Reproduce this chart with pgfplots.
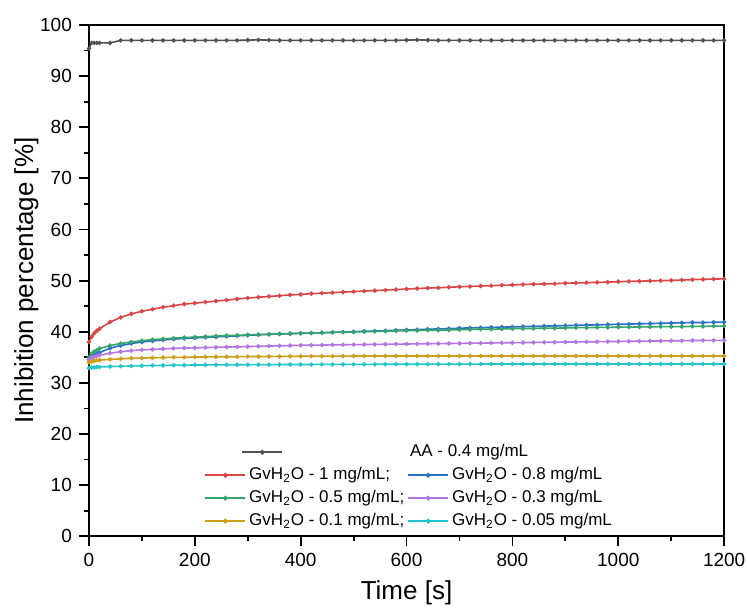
\documentclass[border=0pt]{standalone}
\usepackage{fontspec}
\setmainfont{Liberation Sans}
\usepackage{pgfplots}
\usepackage{pgfplotstable}
\pgfplotsset{compat=1.18}

\definecolor{cAA}{HTML}{515151}
\definecolor{cR}{HTML}{D94646}
\definecolor{cB}{HTML}{2A6FC9}
\definecolor{cG}{HTML}{37A56B}
\definecolor{cP}{HTML}{B177DE}
\definecolor{cY}{HTML}{CC9E1A}
\definecolor{cC}{HTML}{22C5CC}

\pgfplotsset{
    aaleg/.style={legend image code/.code={\path[draw=none] (0,0) -- (0.7cm,0);
        \draw[##1, line width=1pt, overlay, mark repeat=2, mark phase=2] plot coordinates {(0.65cm,0cm) (1.0cm,0cm) (1.35cm,0cm)};}},
    blankleg/.style={legend image code/.code={\path[draw=none] (0,0) -- (0.7cm,0);}},
}

% time [s], AA 0.4, GvH2O 1, 0.8, 0.5, 0.3, 0.1, 0.05 mg/mL
\pgfplotstableread{
t    aa    r     b     g     p     y     c
0    95.4  38.0  34.6  35.0  34.5  34.0  32.9
5    96.5  39.0  35.0  35.7  34.9  34.2  33.0
10   96.5  39.7  35.4  36.1  35.1  34.3  33.0
15   96.5  40.2  35.7  36.4  35.3  34.4  33.1
20   96.5  40.6  35.9  36.7  35.4  34.45 33.1
40   96.5  41.9  36.8  37.3  35.8  34.6  33.2
60   97.0  42.8  37.3  37.7  36.1  34.7  33.25
80   97.0  43.5  37.7  38.0  36.3  34.8  33.3
100  97.0  44.0  38.0  38.25 36.45 34.85 33.35
120  97.0  44.4  38.2  38.45 36.55 34.9  33.4
140  97.0  44.8  38.4  38.6  36.65 34.95 33.42
160  97.0  45.1  38.55 38.75 36.75 35.0  33.45
180  97.0  45.4  38.7  38.85 36.8  35.0  33.47
200  97.0  45.6  38.8  38.95 36.85 35.05 33.5
220  97.0  45.8  38.9  39.05 36.9  35.07 33.5
240  97.0  46.0  39.0  39.15 36.95 35.1  33.52
260  97.0  46.2  39.1  39.25 37.0  35.1  33.53
280  97.0  46.4  39.2  39.3  37.05 35.12 33.54
300  97.05 46.6  39.3  39.4  37.1  35.15 33.55
320  97.1  46.75 39.4  39.45 37.15 35.15 33.56
340  97.05 46.9  39.5  39.5  37.2  35.17 33.57
360  97.0  47.05 39.55 39.6  37.25 35.18 33.58
380  97.0  47.2  39.6  39.65 37.3  35.19 33.59
400  97.0  47.3  39.7  39.7  37.35 35.2  33.6
420  97.0  47.45 39.75 39.75 37.38 35.2  33.6
440  97.0  47.55 39.8  39.8  37.4  35.21 33.61
460  97.0  47.65 39.9  39.85 37.43 35.22 33.61
480  97.0  47.75 39.95 39.9  37.45 35.23 33.62
500  97.0  47.85 40.0  39.95 37.48 35.25 33.62
520  97.0  47.95 40.1  40.0  37.5  35.25 33.63
540  97.0  48.05 40.15 40.05 37.53 35.25 33.63
560  97.0  48.15 40.2  40.1  37.55 35.25 33.64
580  97.0  48.25 40.3  40.15 37.58 35.25 33.64
600  97.05 48.35 40.35 40.2  37.6  35.25 33.65
620  97.1  48.45 40.4  40.25 37.63 35.25 33.65
640  97.05 48.55 40.5  40.3  37.65 35.25 33.66
660  97.0  48.6  40.55 40.3  37.68 35.25 33.66
680  97.0  48.7  40.6  40.35 37.7  35.25 33.67
700  97.0  48.8  40.7  40.4  37.73 35.25 33.67
720  97.0  48.85 40.75 40.45 37.75 35.25 33.68
740  97.0  48.95 40.8  40.5  37.78 35.25 33.68
760  97.0  49.0  40.85 40.5  37.8  35.25 33.69
780  97.0  49.1  40.9  40.55 37.83 35.25 33.69
800  97.0  49.15 40.95 40.6  37.85 35.25 33.7
820  97.0  49.25 41.0  40.6  37.88 35.25 33.7
840  97.0  49.3  41.05 40.65 37.9  35.25 33.7
860  97.0  49.35 41.1  40.7  37.93 35.25 33.7
880  97.0  49.4  41.15 40.7  37.95 35.25 33.7
900  97.0  49.5  41.2  40.75 37.98 35.25 33.7
920  97.0  49.55 41.25 40.8  38.0  35.25 33.7
940  97.0  49.6  41.3  40.8  38.03 35.25 33.7
960  97.0  49.65 41.35 40.85 38.05 35.25 33.7
980  97.0  49.7  41.4  40.85 38.08 35.25 33.7
1000 97.0  49.8  41.45 40.9  38.1  35.25 33.7
1020 97.0  49.85 41.5  40.9  38.13 35.25 33.7
1040 97.0  49.9  41.55 40.95 38.15 35.25 33.7
1060 97.0  49.95 41.6  40.95 38.18 35.25 33.7
1080 97.0  50.0  41.65 41.0  38.2  35.25 33.7
1100 97.0  50.05 41.7  41.0  38.23 35.25 33.7
1120 97.0  50.1  41.75 41.0  38.25 35.25 33.7
1140 97.0  50.2  41.8  41.05 38.28 35.25 33.7
1160 97.0  50.25 41.8  41.05 38.3  35.25 33.7
1180 97.0  50.3  41.85 41.1  38.3  35.25 33.7
1200 97.0  50.35 41.9  41.1  38.3  35.25 33.7
}\datatab

\begin{document}
\begin{tikzpicture}
\begin{axis}[
    scale only axis,
    width=317.5pt, height=255.5pt,
    xmin=0, xmax=1200, ymin=0, ymax=100,
    xtick={0,200,...,1200}, ytick={0,10,...,100},
    minor x tick num=1, minor y tick num=1,
    tick align=outside, xtick pos=lower, ytick pos=left,
    major tick length=5pt, minor tick length=2.5pt,
    axis line style={line width=1pt}, every tick/.style={line width=0.9pt, black},
    tick label style={font=\fontsize{9.5}{11}\selectfont},
    /pgf/number format/assume math mode=true,
    /pgf/number format/1000 sep={},
    xlabel={Time [s]}, ylabel={Inhibition percentage [\%]},
    label style={font=\fontsize{13}{15}\selectfont},
    ylabel shift=-6pt,
    clip=false,
    every axis plot/.append style={line width=0.8pt, mark=*, mark size=0.65pt},
    legend columns=2,
    legend cell align=left,
    legend style={draw=none, fill=none, at={(0.178,0.004)}, anchor=south west,
        font=\fontsize{8.5}{10.5}\selectfont, row sep=0.8pt,
        nodes={inner xsep=1pt, inner ysep=1.5pt},
        /tikz/column sep=0.5pt, inner sep=1pt},
    legend image code/.code={\draw[#1, line width=1pt, mark repeat=2, mark phase=2] plot coordinates {(0cm,0cm) (0.35cm,0cm) (0.7cm,0cm)};},
]
\addplot[cAA, aaleg] table[x=t, y=aa] {\datatab};
\addlegendentry{}
\addlegendimage{blankleg}
\addlegendentry{\hspace*{-0.74cm}AA - 0.4 mg/mL}
\addplot[cR] table[x=t, y=r] {\datatab};
\addlegendentry{GvH\textsubscript{2}O - 1 mg/mL;}
\addplot[cB] table[x=t, y=b] {\datatab};
\addlegendentry{GvH\textsubscript{2}O - 0.8 mg/mL}
\addplot[cG] table[x=t, y=g] {\datatab};
\addlegendentry{GvH\textsubscript{2}O - 0.5 mg/mL;}
\addplot[cP] table[x=t, y=p] {\datatab};
\addlegendentry{GvH\textsubscript{2}O - 0.3 mg/mL}
\addplot[cY] table[x=t, y=y] {\datatab};
\addlegendentry{GvH\textsubscript{2}O - 0.1 mg/mL;}
\addplot[cC] table[x=t, y=c] {\datatab};
\addlegendentry{GvH\textsubscript{2}O - 0.05 mg/mL}
\coordinate (bbsw) at (rel axis cs:-0.140,-0.139);
\coordinate (bbne) at (rel axis cs:1.036,1.049);
\end{axis}
\pgfresetboundingbox
\path (bbsw) rectangle (bbne);
\end{tikzpicture}
\end{document}
